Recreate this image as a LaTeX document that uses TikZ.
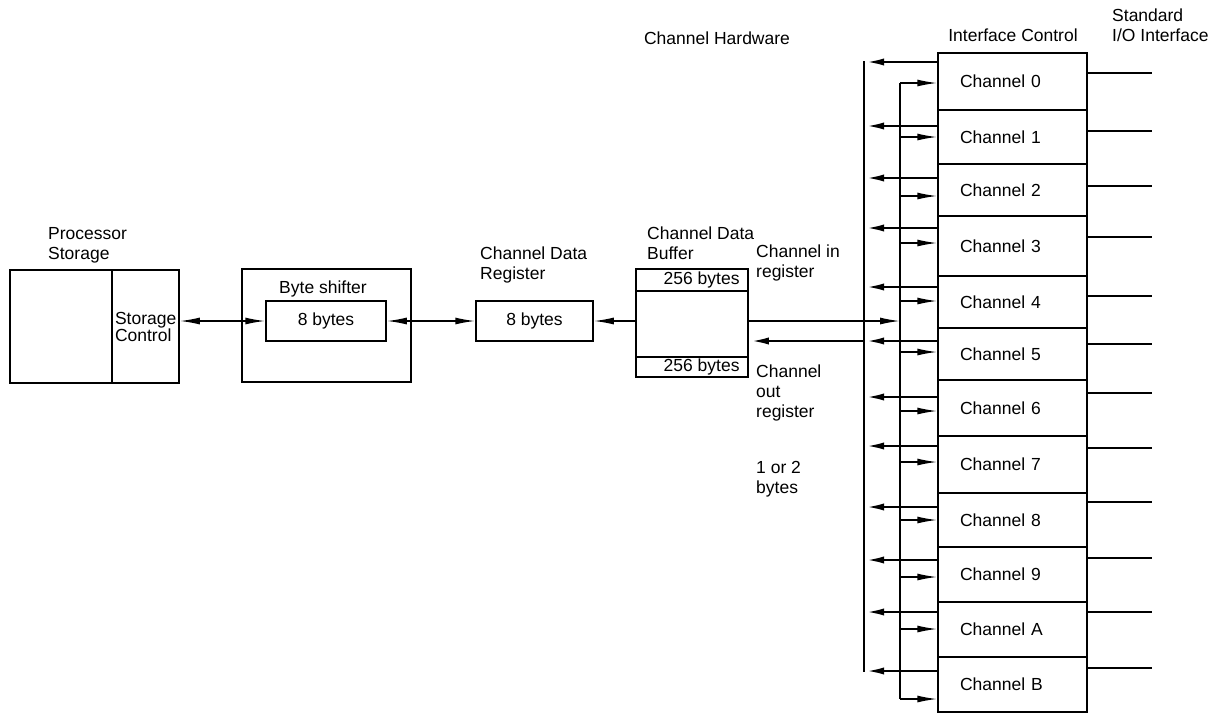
\documentclass[tikz,border=0pt]{standalone}
\usepackage{fontspec}
\setmainfont{Liberation Sans}
\usetikzlibrary{arrows.meta}
\begin{document}
\begin{tikzpicture}[x=1pt,y=-1pt,
  every node/.style={font=\fontsize{17.5}{20}\selectfont},
  box/.style={draw, line width=1.5pt, inner sep=0pt},
  lbl/.style={inner sep=0pt, align=left, anchor=west},
  thinl/.style={line width=1.5pt},
  thickl/.style={line width=2.8pt, line cap=rect},
  >={Latex[length=20pt,width=7pt]}]
\useasboundingbox (0,0) rectangle (1226,713);

% Processor storage
\node[box, minimum width=169pt, minimum height=113pt] (ps) at (94.5,326.5) {};
\node[box, minimum height=113pt, text width=61pt, inner xsep=3pt, align=left,
      font=\fontsize{17.5}{17}\selectfont, anchor=east] (sc) at (ps.east) {Storage\\Control};
\node[lbl] (pslbl) at (48,245) {Processor\\Storage};

% Byte shifter
\node[box, minimum width=169pt, minimum height=113pt] (bs) at (326.5,325.5) {};
\node[inner sep=0pt] (bslbl) at (323,289) {Byte shifter};
\node[box, minimum width=120pt, minimum height=40pt] (bs8) at (326,321) {8 bytes};

% Channel data register
\node[box, minimum width=117pt, minimum height=40pt] (cdr) at (534.5,321) {8 bytes};
\node[lbl] (cdrlbl) at (480,265) {Channel Data\\Register};

% Channel data buffer
\node[box, minimum width=112pt, minimum height=108pt] (buf) at (692,323) {};
\node[box, minimum width=112pt, minimum height=22pt, anchor=north] (buftop) at (buf.north) {};
\node[box, minimum width=112pt, minimum height=20pt, anchor=south] (bufbot) at (buf.south) {};
\node[inner sep=0pt, anchor=east] (buftopt) at ([xshift=-9pt]buftop.east) {256 bytes};
\node[inner sep=0pt, anchor=east] (bufbott) at ([xshift=-9pt]bufbot.east) {256 bytes};
\node[lbl] (buflbl) at (647,243) {Channel Data\\Buffer};

\node[lbl] (inlbl) at (756,263) {Channel in\\register};
\node[lbl] (outlbl) at (756,393) {Channel\\out\\register};
\node[lbl] (byteslbl) at (756,479) {1 or 2\\bytes};

% Headings
\node[inner sep=0pt] (hw) at (717,38) {Channel Hardware};
\node[inner sep=0pt] (ic) at (1013,35) {Interface Control};
\node[lbl] (sio) at (1112,25) {Standard\\I/O Interface};

% Connectors on the left
\draw[thinl, <->] (sc.east |- bs8.west) -- (bs8.west);
\draw[thinl, <->] (bs8.east) -- (cdr.west);
\draw[thinl, ->] (buf.west |- cdr.east) -- (cdr.east);

% Channels
\foreach \n/\t/\b/\ty/\tn/\io in {0/53/110/62/83/73, 1/110/164/126/137/131,
   2/164/216/178/196/186, 3/216/276/228/243/237, 4/276/328/287/301/296,
   5/328/380/341/352/344, 6/380/436/397/411/393, 7/436/493/446/462/448,
   8/493/547/507/520/502, 9/547/602/560/577/558, A/602/657/612/629/612,
   B/657/712/671/699/668}{
  \pgfmathsetmacro\hh{\b-\t}
  \pgfmathsetmacro\cy{(\t+\b)/2}
  \node[box, minimum height=\hh pt, text width=105pt, inner xsep=22pt,
        align=left] (ch\n) at (1012.5,\cy) {Channel \n};
  \coordinate (busL\n) at (864,\ty);
  \coordinate (busR\n) at (900,\tn);
  \coordinate (io\n) at (1152,\io);
  \draw[thickl, ->] (ch\n.west |- busL\n) -- (busL\n);
  \draw[thinl, ->] (busR\n) -- (ch\n.west |- busR\n);
  \draw[thinl] (ch\n.east |- io\n) -- (io\n);
}
\draw[thickl] (busL0) -- (busLB);
\draw[thinl] (busR0) -- (busRB);

% Channel in / out registers
\coordinate (inbus) at (900,321);
\coordinate (outbus) at (864,341);
\draw[thinl, ->] (buf.east |- inbus) -- (inbus);
\draw[thickl, ->] (outbus) -- (buf.east |- outbus);
\end{tikzpicture}
\end{document}
